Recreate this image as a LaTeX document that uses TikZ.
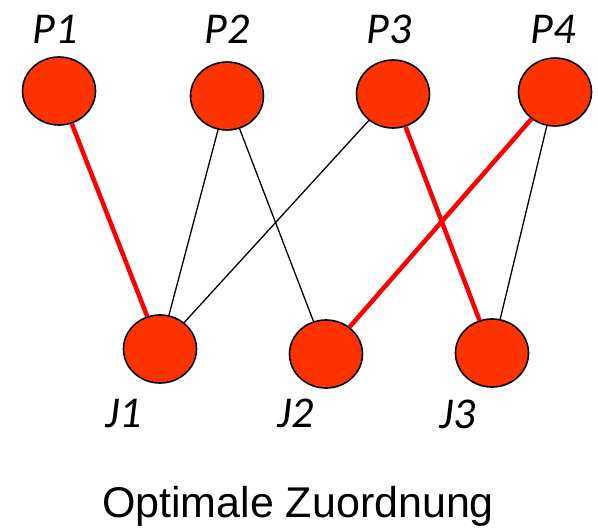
\documentclass[tikz,border=0pt]{standalone}
\usepackage{fontspec}
\usetikzlibrary{shapes.geometric}
\newfontfamily\labelfont{Carlito}
\newfontfamily\captionfont{Liberation Sans}
\definecolor{nodeorange}{HTML}{FF3300}
\begin{document}
\begin{tikzpicture}[x=1pt,y=-1pt,
    vertex/.style={draw,line width=1.6pt,fill=nodeorange,ellipse,
      minimum width=73pt,minimum height=68pt,inner sep=0pt},
    vlabel/.style={anchor=base,inner sep=0pt,
      font=\labelfont\itshape\fontsize{44}{48}\selectfont},
    thinline/.style={line width=1.3pt},
    matchline/.style={line width=4.5pt,red}]
    \useasboundingbox (0,0) rectangle (598,530);
    \node[vertex] (P1) at (59,91) {};
    \node[vertex] (P2) at (227,96) {};
    \node[vertex] (P3) at (393,94) {};
    \node[vertex] (P4) at (555,92) {};
    \node[vertex] (J1) at (160,349) {};
    \node[vertex] (J2) at (326,354) {};
    \node[vertex] (J3) at (492,353) {};
    \node[vlabel] (l1) at (55,43) {P1};
    \node[vlabel] (l2) at (227,43) {P2};
    \node[vlabel] (l3) at (389,43) {P3};
    \node[vlabel] (l4) at (553,43) {P4};
    \node[vlabel] (m1) at (124,427) {J1};
    \node[vlabel] (m2) at (296,427) {J2};
    \node[vlabel] (m3) at (458,428) {J3};
    \draw[thinline] (P2) -- (J1);
    \draw[thinline] (P2) -- (J2);
    \draw[thinline] (P3) -- (J1);
    \draw[thinline] (P4) -- (J3);
    \draw[matchline] (P1) -- (J1);
    \draw[matchline] (P3) -- (J3);
    \draw[matchline] (P4) -- (J2);
    \node[anchor=base,inner sep=0pt,font=\captionfont\fontsize{43}{48}\selectfont]
      (title) at (298,517) {Optimale Zuordnung};
  \end{tikzpicture}
\end{document}
